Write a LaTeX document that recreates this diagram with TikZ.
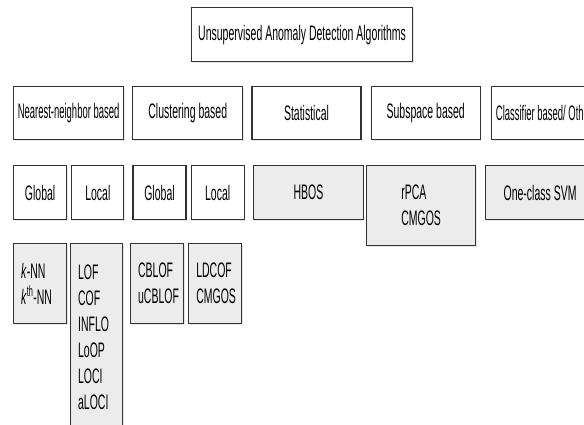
\documentclass[tikz,border=0pt]{standalone}
\usepackage{fontspec}
\usepackage{graphicx}
\setmainfont[FakeStretch=0.5]{Liberation Sans}
\usepackage{tikz}
\usetikzlibrary{positioning, shadows}
\definecolor{cellgray}{RGB}{236,236,236}
\definecolor{boxline}{RGB}{50,50,50}

\begin{document}
\begin{tikzpicture}[
    x=1pt, y=-1pt,
    catbox/.style={rectangle, draw=boxline, line width=1.2pt, fill=white, minimum height=53pt, inner sep=0pt, align=center, font=\fontsize{21}{26}\selectfont, drop shadow={shadow xshift=1pt, shadow yshift=-1.2pt, opacity=0.2}},
    algobox/.style={catbox, fill=cellgray},
    leafbox/.style={algobox, align=left, inner xsep=7.5pt, minimum height=80pt},
    node distance=8pt,
]
\useasboundingbox (0,0) rectangle (584,425);
\clip (0,0) rectangle (584,425);

% root
\node[catbox, minimum width=221pt, minimum height=54pt, anchor=north west] (root) at (191,7) {Unsupervised Anomaly Detection Algorithms};

% families
\node[catbox, minimum width=110pt, anchor=north west] (nn) at (13,86) {\scalebox{0.9}[1]{Nearest-neighbor based}};
\node[catbox, minimum width=110pt, right=of nn] (cluster) {Clustering based};
\node[catbox, minimum width=109pt, right=of cluster] (stat) {Statistical};
\node[catbox, minimum width=109pt, right=9pt of stat] (subspace) {Subspace based};
\node[catbox, minimum width=110pt, right=10pt of subspace] (classifier) {\scalebox{0.9}[1]{Classifier based/ Others}};

% global / local split
\node[catbox, minimum width=53pt, minimum height=54pt, anchor=north west] (nnglobal) at (13,165) {Global};
\node[catbox, minimum width=52pt, minimum height=54pt, right=4pt of nnglobal] (nnlocal) {Local};
\node[catbox, minimum width=53pt, minimum height=54pt, right=of nnlocal] (clglobal) {Global};
\node[catbox, minimum width=53pt, minimum height=54pt, right=4pt of clglobal] (cllocal) {Local};
\node[algobox, minimum width=110pt, minimum height=54pt, right=of cllocal] (hbos) {HBOS};
\node[algobox, align=left, minimum width=109pt, minimum height=80pt, anchor=north west] (rpca) at (366,165) {rPCA\\CMGOS};
\node[algobox, minimum width=109pt, minimum height=54pt, anchor=north west] (svm) at (485,165) {One-class SVM};

% algorithms
\node[leafbox, text width=38pt, anchor=north west] (knn) at (13,243) {\textit{k}-NN\\\textit{k}\textsuperscript{th}-NN};
\node[leafbox, text width=37pt, minimum height=188pt, anchor=north west] (lof) at (70,243) {LOF\\COF\\INFLO\\LoOP\\LOCI\\aLOCI};
\node[leafbox, text width=38pt, anchor=north west] (cblof) at (130,243) {CBLOF\\uCBLOF};
\node[leafbox, text width=38pt, right=4pt of cblof] (ldcof) {LDCOF\\CMGOS};

\end{tikzpicture}
\end{document}
